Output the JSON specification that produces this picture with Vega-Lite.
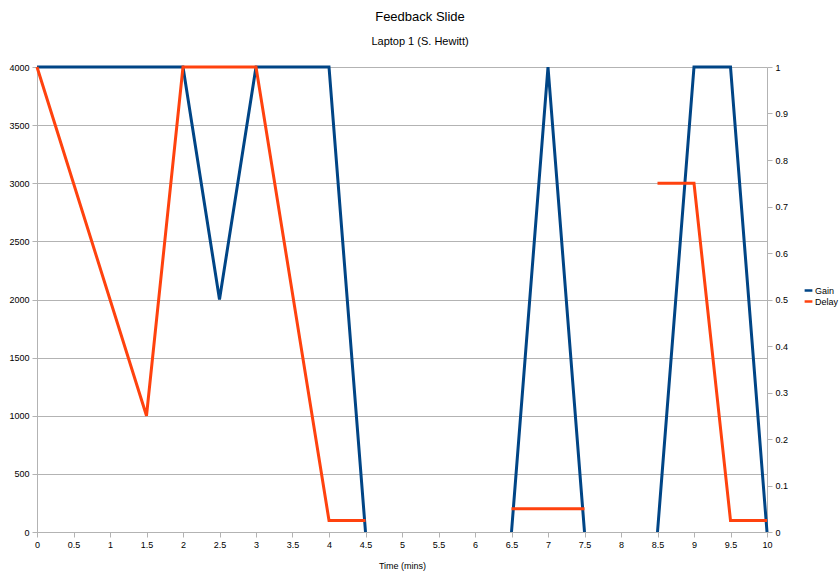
{
  "$schema": "https://vega.github.io/schema/vega-lite/v6.json",
  "width": 730,
  "height": 465,
  "autosize": {"type": "none"},
  "padding": {"left": 37, "top": 67, "right": 73, "bottom": 42},
  "background": "white",
  "title": {
    "text": "Feedback Slide",
    "subtitle": "Laptop 1 (S. Hewitt)",
    "anchor": "middle",
    "dx": 18,
    "offset": 14,
    "font": "Liberation Sans",
    "fontSize": 13,
    "fontWeight": "normal",
    "color": "#000000",
    "subtitleFont": "Liberation Sans",
    "subtitleFontSize": 11,
    "subtitleColor": "#000000",
    "subtitlePadding": 12
  },
  "datasets": {
    "gain": [
      {"t": 0, "v": 4000}, {"t": 0.5, "v": 4000}, {"t": 1, "v": 4000}, {"t": 1.5, "v": 4000},
      {"t": 2, "v": 4000}, {"t": 2.5, "v": 2000}, {"t": 3, "v": 4000}, {"t": 3.5, "v": 4000},
      {"t": 4, "v": 4000}, {"t": 4.5, "v": 0}, {"t": 5, "v": null}, {"t": 5.5, "v": null},
      {"t": 6, "v": null}, {"t": 6.5, "v": 0}, {"t": 7, "v": 4000}, {"t": 7.5, "v": 0},
      {"t": 8, "v": null}, {"t": 8.5, "v": 0}, {"t": 9, "v": 4000}, {"t": 9.5, "v": 4000},
      {"t": 10, "v": 0}
    ],
    "delay": [
      {"t": 0, "v": 1}, {"t": 1.5, "v": 0.25}, {"t": 2, "v": 1}, {"t": 2.5, "v": 1},
      {"t": 3, "v": 1}, {"t": 4, "v": 0.025}, {"t": 4.5, "v": 0.025}, {"t": 5, "v": null},
      {"t": 6.5, "v": 0.05}, {"t": 7, "v": 0.05}, {"t": 7.5, "v": 0.05}, {"t": 8, "v": null},
      {"t": 8.5, "v": 0.75}, {"t": 9, "v": 0.75}, {"t": 9.5, "v": 0.025}, {"t": 10, "v": 0.025}
    ]
  },
  "config": {
    "view": {"stroke": null},
    "axis": {
      "labelFont": "Liberation Sans",
      "labelFontSize": 9,
      "labelColor": "#000000",
      "labelOverlap": false,
      "labelFlush": false,
      "titleFont": "Liberation Sans",
      "titleFontSize": 9,
      "titleFontWeight": "normal",
      "titleColor": "#000000",
      "domainColor": "#b3b3b3",
      "tickColor": "#b3b3b3",
      "gridColor": "#b3b3b3",
      "tickSize": 5
    },
    "legend": {
      "labelFont": "Liberation Sans",
      "labelFontSize": 9,
      "labelColor": "#000000"
    }
  },
  "encoding": {
    "x": {
      "field": "t", "type": "quantitative",
      "scale": {"domain": [0, 10], "nice": false},
      "axis": {
        "title": "Time (mins)",
        "values": [0, 0.5, 1, 1.5, 2, 2.5, 3, 3.5, 4, 4.5, 5, 5.5, 6, 6.5, 7, 7.5, 8, 8.5, 9, 9.5, 10],
        "format": "~g",
        "labelOverlap": false,
        "labelFlush": false,
        "labelBound": false,
        "grid": false,
        "labelPadding": 3,
        "titlePadding": 12
      }
    }
  },
  "layer": [
    {
      "data": {"name": "gain"},
      "mark": {"type": "line", "strokeWidth": 3, "invalid": "break-paths-show-domains"},
      "encoding": {
        "y": {
          "field": "v", "type": "quantitative",
          "scale": {"domain": [0, 4000], "nice": false},
          "axis": {
            "title": null,
            "values": [0, 500, 1000, 1500, 2000, 2500, 3000, 3500, 4000],
            "grid": true,
            "format": "d",
            "labelPadding": 3
          }
        },
        "color": {
          "datum": "Gain",
          "type": "nominal",
          "scale": {"domain": ["Gain", "Delay"], "range": ["#004586", "#ff420e"]},
          "legend": {
            "title": null,
            "orient": "none",
            "legendX": 766,
            "legendY": 218,
            "symbolType": "stroke",
            "symbolStrokeWidth": 2.5,
            "symbolSize": 60,
            "labelOffset": 1,
            "rowPadding": 0,
            "symbolOffset": 0
          }
        }
      }
    },
    {
      "data": {"name": "delay"},
      "mark": {"type": "line", "strokeWidth": 3, "invalid": "break-paths-show-domains"},
      "encoding": {
        "y": {
          "field": "v", "type": "quantitative",
          "scale": {"domain": [0, 1], "nice": false},
          "axis": {
            "title": null,
            "orient": "right",
            "values": [0, 0.1, 0.2, 0.3, 0.4, 0.5, 0.6, 0.7, 0.8, 0.9, 1],
            "format": "~g",
            "grid": false,
            "labelPadding": 3
          }
        },
        "color": {"datum": "Delay", "type": "nominal"}
      }
    }
  ],
  "resolve": {"scale": {"y": "independent"}}
}
